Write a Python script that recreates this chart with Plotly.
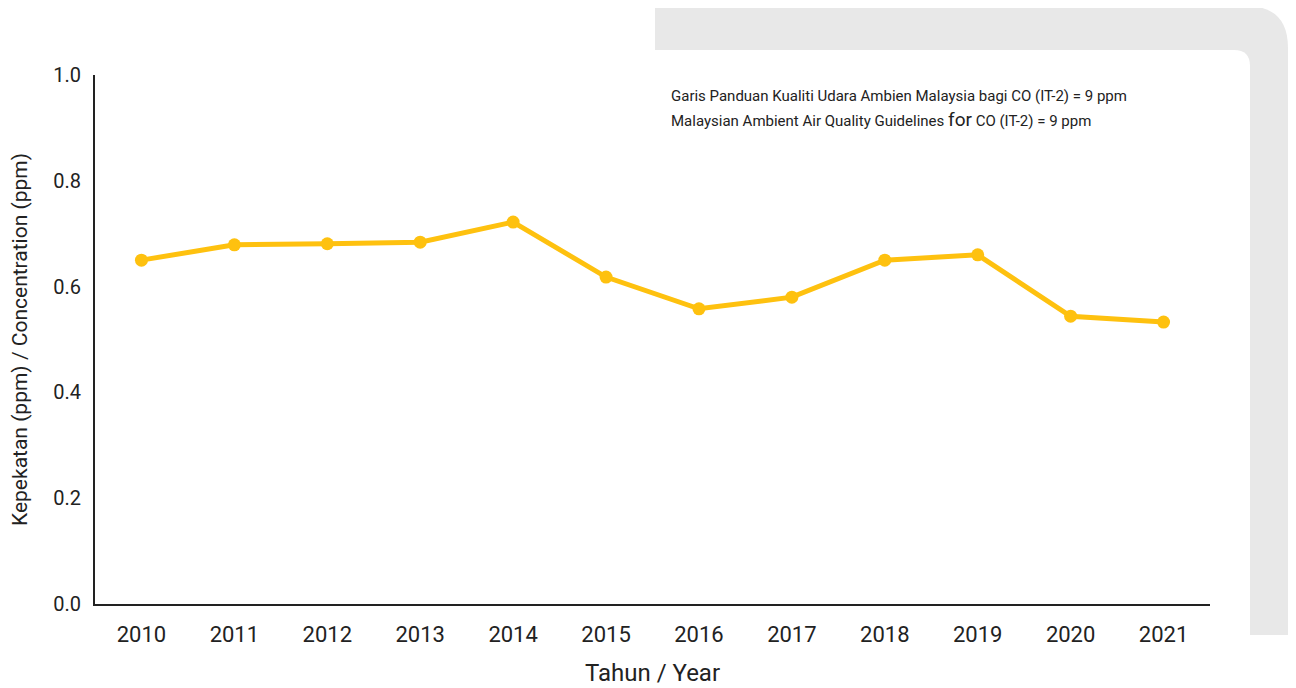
import plotly.graph_objects as go

years = ['2010', '2011', '2012', '2013', '2014', '2015',
         '2016', '2017', '2018', '2019', '2020', '2021']
co_ppm = [0.650, 0.679, 0.681, 0.684, 0.722, 0.618,
          0.558, 0.580, 0.650, 0.660, 0.544, 0.533]
y_ticks = [0.0, 0.2, 0.4, 0.6, 0.8, 1.0]

# page body adds an 8px margin, so shift everything back
OFF = 8
W, H = 1296, 688
L, R, T, B = 95 - OFF, 1210 - OFF, 75 - OFF, 604 - OFF  # plot area in pixels


def px(x):
    return (x - OFF - L) / (R - L)


def py(y):
    return (B - (y - OFF)) / (B - T)


def rounded_rect(x0, y0, x1, y1, r):
    # rounded top-right corner only
    return (f'M {px(x0)},{py(y0)} L {px(x1 - r)},{py(y0)} '
            f'Q {px(x1)},{py(y0)} {px(x1)},{py(y0 + r)} '
            f'L {px(x1)},{py(y1)} L {px(x0)},{py(y1)} Z')


font_family = 'Liberation Sans Narrow, Roboto, sans-serif'
line_color = '#FEC10F'

fig = go.Figure()
fig.add_trace(go.Scatter(
    x=years, y=co_ppm,
    mode='lines+markers',
    line=dict(color=line_color, width=5),
    marker=dict(color=line_color, size=13),
    showlegend=False,
    cliponaxis=False
))

shapes = [
    # grey card behind
    dict(type='path', path=rounded_rect(655, 6, 1288, 635, 42),
         xref='paper', yref='paper', fillcolor='#e8e8e8',
         line=dict(width=0), layer='below'),
    dict(type='rect', x0=px(1288), x1=px(1300), y0=py(90), y1=py(635),
         xref='paper', yref='paper', fillcolor='#e0e0e0',
         line=dict(width=0), layer='below'),
    # white card on top
    dict(type='path', path=rounded_rect(655, 50, 1250, 640, 16),
         xref='paper', yref='paper', fillcolor='white',
         line=dict(width=0), layer='below'),
]

note_lines = [
    'Garis Panduan Kualiti Udara Ambien Malaysia bagi CO (IT-2) = 9 ppm',
    'Malaysian Ambient Air Quality Guidelines '
    '<span style="font-size:19px">for</span> CO (IT-2) = 9 ppm',
]
note_y = [96, 119]

annotations = [dict(
    text=txt, xref='paper', yref='paper',
    x=px(669), y=py(yy), xanchor='left', yanchor='middle',
    align='left', showarrow=False,
    font=dict(size=15, color='#222222', family=font_family)
) for txt, yy in zip(note_lines, note_y)]

fig.update_layout(
    width=W, height=H,
    margin=dict(l=L, r=W - R, t=T, b=H - B),
    paper_bgcolor='white',
    plot_bgcolor='rgba(0,0,0,0)',
    font=dict(family=font_family, color='#222222'),
    shapes=shapes,
    annotations=annotations
)

fig.update_xaxes(
    type='category', range=[-0.5, 11.5],
    showline=True, linecolor='#222222', linewidth=2,
    showgrid=False, ticks='', zeroline=False,
    tickfont=dict(size=22), ticklabelstandoff=10,
    title=dict(text='Tahun / Year', font=dict(size=24), standoff=18)
)
fig.update_yaxes(
    range=[0, 1], tickvals=y_ticks, ticktext=[f'{v:.1f}' for v in y_ticks],
    showline=True, linecolor='#222222', linewidth=2,
    showgrid=False, ticks='', zeroline=False,
    tickfont=dict(size=20), ticklabelstandoff=8,
    title=dict(text='Kepekatan (ppm) / Concentration (ppm)',
               font=dict(size=21), standoff=20)
)

fig.write_html('out.html')
